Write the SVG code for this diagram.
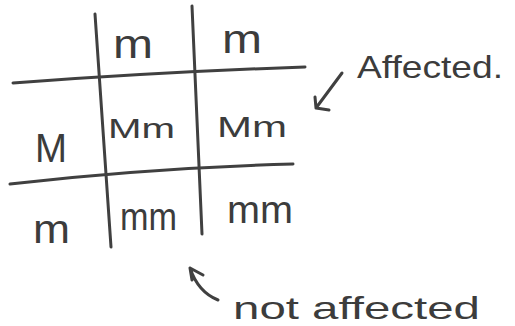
<svg xmlns="http://www.w3.org/2000/svg" width="515" height="326" viewBox="0 0 515 326">
<style>
.ln{fill:none;stroke:#404040;stroke-width:3;stroke-linecap:round;stroke-linejoin:round}
.t{font-family:"Liberation Sans","DejaVu Sans",sans-serif;fill:#3c3c3c}
</style>
<rect width="515" height="326" fill="#ffffff"/>
<g id="grid">
<path class="ln" d="M95,14 L111,247"/>
<path class="ln" d="M192,6 L202,234"/>
<path class="ln" d="M13,83 Q160,72 305,67"/>
<path class="ln" d="M10,184 Q150,168 293,164"/>
</g>
<g id="header-m1"><text class="t" x="113" y="58" font-size="40" textLength="40" lengthAdjust="spacingAndGlyphs">m</text></g>
<g id="header-m2"><text class="t" x="222" y="53" font-size="40" textLength="40" lengthAdjust="spacingAndGlyphs">m</text></g>
<g id="row-M"><text class="t" x="35" y="162" font-size="40" textLength="32" lengthAdjust="spacingAndGlyphs">M</text></g>
<g id="row-m"><text class="t" x="33" y="243" font-size="40" textLength="37" lengthAdjust="spacingAndGlyphs">m</text></g>
<g id="cell-Mm1"><text class="t" x="108" y="138" font-size="28" textLength="67" lengthAdjust="spacingAndGlyphs">Mm</text></g>
<g id="cell-Mm2"><text class="t" x="217" y="137" font-size="29" textLength="70" lengthAdjust="spacingAndGlyphs">Mm</text></g>
<g id="cell-mm1"><text class="t" x="120" y="230" font-size="38" textLength="57" lengthAdjust="spacingAndGlyphs">mm</text></g>
<g id="cell-mm2"><text class="t" x="227" y="223" font-size="38" textLength="66" lengthAdjust="spacingAndGlyphs">mm</text></g>
<g id="label-affected"><text class="t" x="357" y="78" font-size="32" textLength="146" lengthAdjust="spacingAndGlyphs">Affected.</text></g>
<g id="label-not-affected"><text class="t" x="233" y="319" font-size="32" textLength="247" lengthAdjust="spacingAndGlyphs">not affected</text></g>
<g id="connectors">
<path class="ln" d="M342,73 L316,108 M315,97 L316,108 L329,110"/>
<path class="ln" d="M218,300 Q198,292 190,268 M190,268 L203,275 M190,268 L192,280"/>
</g>
</svg>
